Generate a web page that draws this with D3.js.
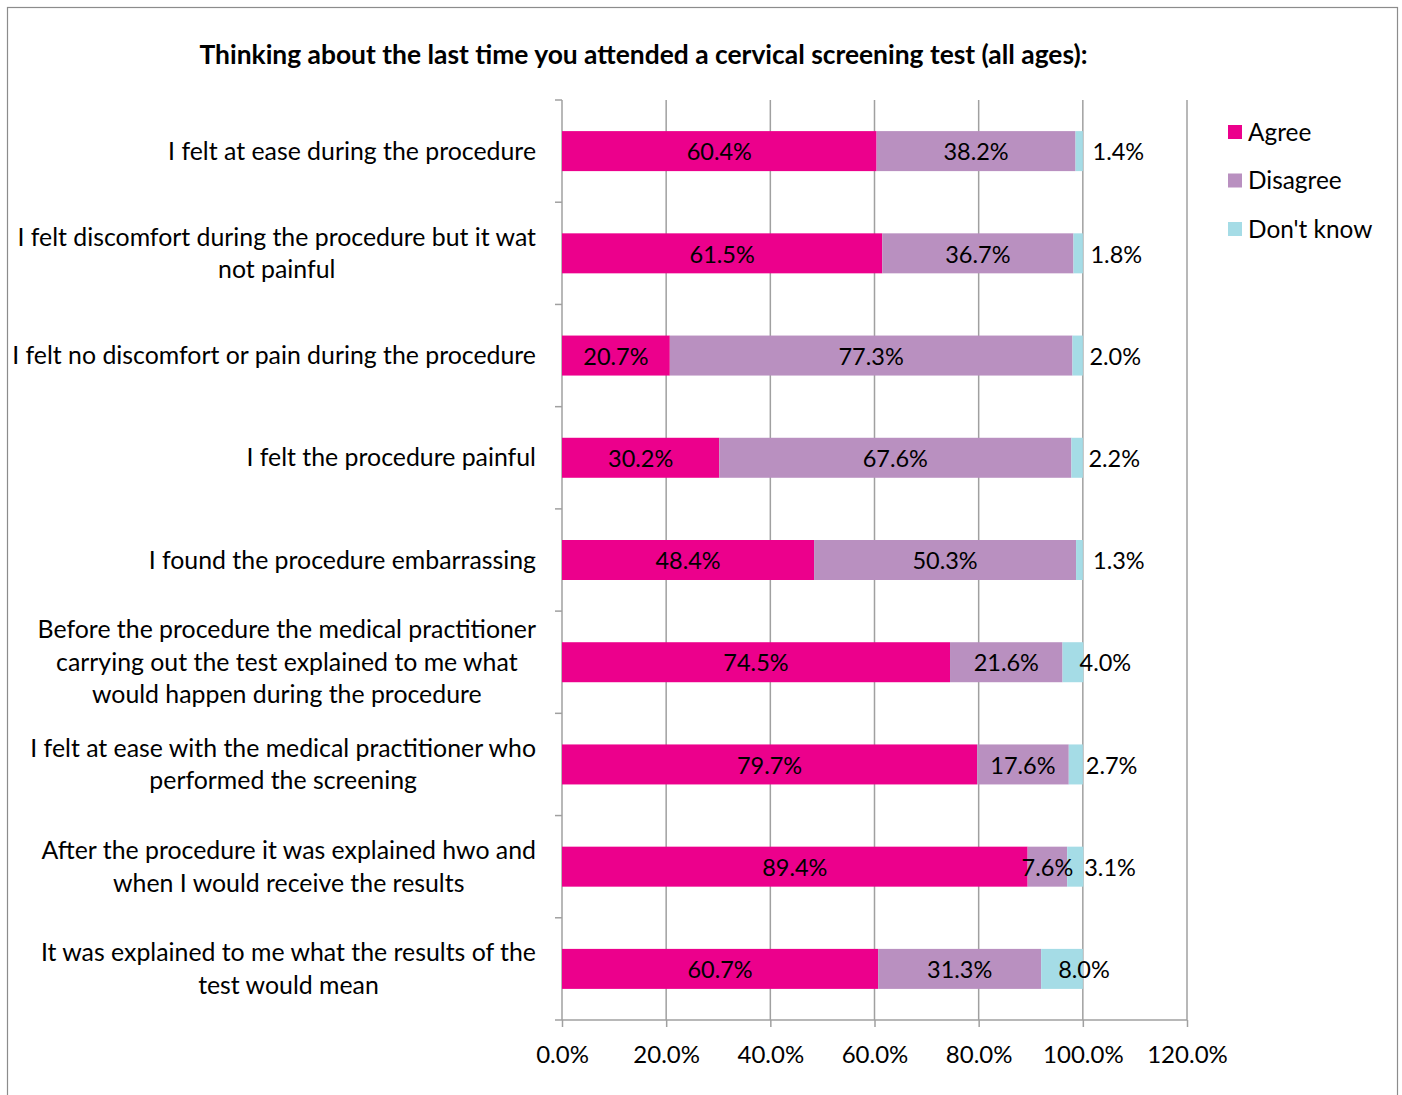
<!DOCTYPE html>
<html><head><meta charset="utf-8">
<script src="https://cdn.jsdelivr.net/npm/d3@7"></script>
<style>html,body{margin:0;padding:0;background:#fff;} svg{display:block;font-family:Lato, "Open Sans", sans-serif;}</style>
</head><body>
<svg id="c" width="1402" height="1095"></svg>
<script>
const title = "Thinking about the last time you attended a cervical screening test (all ages):";
const categories = [
  "I felt at ease during the procedure",
  "I felt discomfort during the procedure but it wat\nnot painful",
  "I felt no discomfort or pain during the procedure",
  "I felt the procedure painful",
  "I found the procedure embarrassing",
  "Before the procedure the medical practitioner\ncarrying out the test explained to me what\nwould happen during the procedure",
  "I felt at ease with the medical practitioner who\nperformed the screening",
  "After the procedure it was explained hwo and\nwhen I would receive the results",
  "It was explained to me what the results of the\ntest would mean"
];
const seriesNames = ["Agree", "Disagree", "Don't know"];
const agree =    [60.4, 61.5, 20.7, 30.2, 48.4, 74.5, 79.7, 89.4, 60.7];
const disagree = [38.2, 36.7, 77.3, 67.6, 50.3, 21.6, 17.6, 7.6, 31.3];
const dontKnow = [1.4, 1.8, 2.0, 2.2, 1.3, 4.0, 2.7, 3.1, 8.0];
const xTicks = [0, 20, 40, 60, 80, 100, 120];
const colors = ["#EC008C", "#B990C0", "#A5DCE6"];

const svg = d3.select("#c");
const plot = {left: 562, right: 1187, top: 100, bottom: 1020};

// outer border
svg.append("rect").attr("x", 7.5).attr("y", 7.5).attr("width", 1390).attr("height", 1100)
  .attr("fill", "none").attr("stroke", "#8c8c8c").attr("stroke-width", 1.2);

// title
svg.append("text").attr("x", 643.5).attr("y", 64).attr("text-anchor", "middle")
  .attr("font-weight", "bold").attr("font-size", 26.4).attr("fill", "#000").text(title);

const x = d3.scaleLinear().domain([0, 120]).range([plot.left, plot.right]);
const y = d3.scaleBand().domain(d3.range(categories.length)).range([plot.top, plot.bottom]).paddingInner(0).paddingOuter(0);
const barH = 40;

// gridlines
svg.append("g").selectAll("line").data(xTicks.slice(1)).join("line")
  .attr("x1", d => x(d)).attr("x2", d => x(d)).attr("y1", plot.top).attr("y2", plot.bottom)
  .attr("stroke", "#a0a0a0").attr("stroke-width", 1.5);

// x axis
const xAxis = d3.axisBottom(x).tickValues(xTicks).tickSize(7).tickPadding(19)
  .tickFormat(d => d.toFixed(1) + "%");
const gx = svg.append("g").attr("transform", `translate(0,${plot.bottom})`).call(xAxis);
gx.select(".domain").attr("stroke", "#a0a0a0").attr("stroke-width", 1.5).attr("d", `M${plot.left},0H${plot.right}`);
gx.selectAll(".tick line").attr("stroke", "#a0a0a0").attr("stroke-width", 1.5);
gx.selectAll(".tick text").attr("font-size", 24).attr("fill", "#000").attr("font-family", "Lato, sans-serif");

// y axis line and ticks at band boundaries
svg.append("line").attr("x1", plot.left).attr("x2", plot.left).attr("y1", plot.top).attr("y2", plot.bottom)
  .attr("stroke", "#a0a0a0").attr("stroke-width", 1.5);
const bounds = d3.range(categories.length + 1).map(i => plot.top + i * y.step());
svg.append("g").selectAll("line").data(bounds).join("line")
  .attr("x1", plot.left - 7).attr("x2", plot.left).attr("y1", d => d).attr("y2", d => d)
  .attr("stroke", "#a0a0a0").attr("stroke-width", 1.5);

// stacked bars
const data = categories.map((c, i) => ({i, vals: [agree[i], disagree[i], dontKnow[i]]}));
const barsG = svg.append("g");
const labelsG = svg.append("g");
data.forEach(d => {
  let acc = 0;
  const cy = y(d.i) + y.bandwidth() / 2;
  d.vals.forEach((v, s) => {
    const x0 = x(acc), x1 = x(acc + v);
    barsG.append("rect").attr("x", x0).attr("y", cy - barH / 2).attr("width", x1 - x0).attr("height", barH)
      .attr("fill", colors[s]);
    const t = labelsG.append("text").attr("y", cy + 1).attr("dy", "0.35em")
      .attr("font-size", 23.5).attr("fill", "#000").text(v.toFixed(1) + "%");
    if (s < 2) {
      t.attr("x", (x0 + x1) / 2).attr("text-anchor", "middle");
    } else {
      t.attr("x", x0 + 17).attr("text-anchor", "start");
    }
    acc += v;
  });
});

// category labels
const catG = svg.append("g");
const lineH = 32.5;
categories.forEach((c, i) => {
  const lines = c.split("\n");
  const cy = y(i) + y.bandwidth() / 2;
  const g = catG.append("g");
  const texts = lines.map((ln, k) => g.append("text")
    .attr("y", cy + (k - (lines.length - 1) / 2) * lineH).attr("dy", "0.35em")
    .attr("font-size", 24.85).attr("fill", "#000").attr("text-anchor", "middle").text(ln));
  const maxW = d3.max(texts, t => t.node().getComputedTextLength());
  texts.forEach(t => t.attr("x", 536 - maxW / 2));
});

// legend
const leg = svg.append("g");
seriesNames.forEach((n, s) => {
  const ly = 132 + s * 48.5;
  leg.append("rect").attr("x", 1228).attr("y", ly - 7).attr("width", 14).attr("height", 14).attr("fill", colors[s]);
  leg.append("text").attr("x", 1248).attr("y", ly).attr("dy", "0.35em").attr("font-size", 24.4).attr("fill", "#000").text(n);
});
</script>
</body></html>
